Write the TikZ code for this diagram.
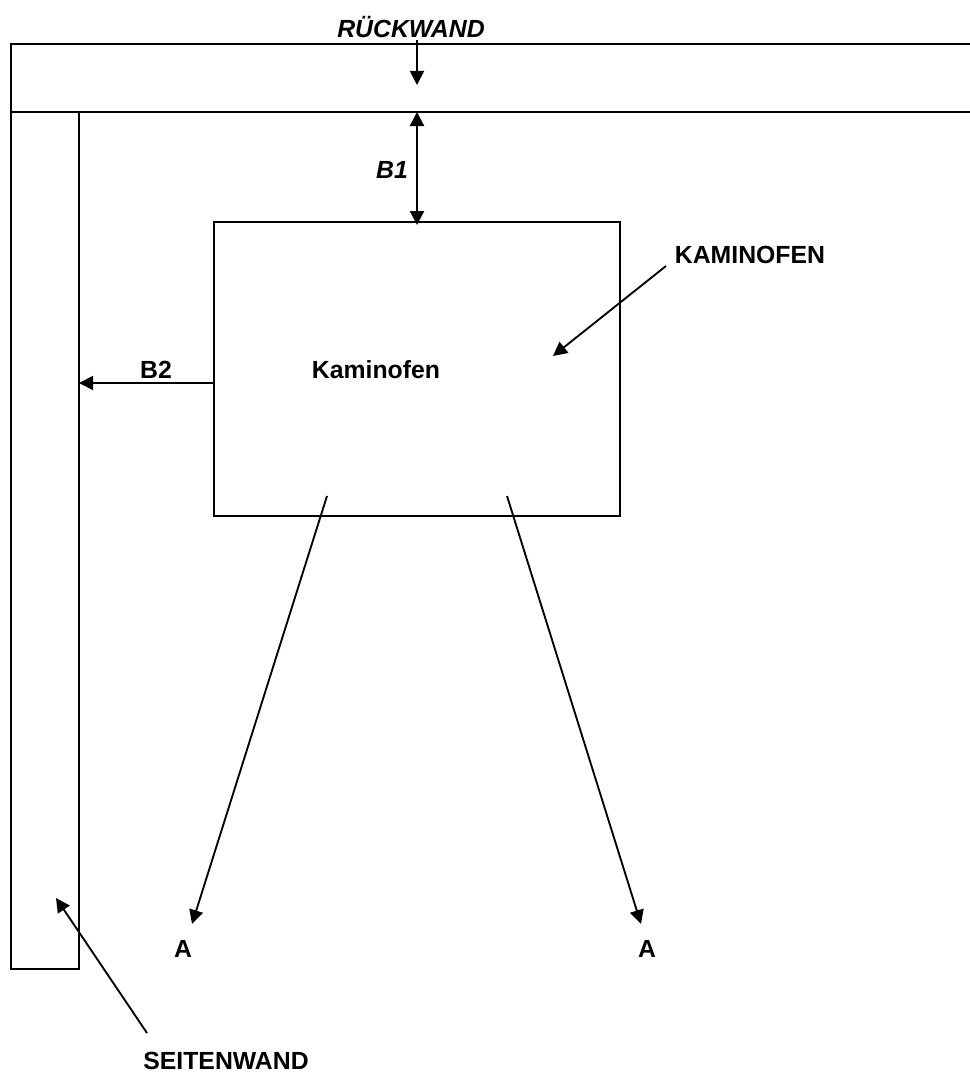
\documentclass[tikz,border=0pt]{standalone}
\usepackage{fontspec}
\setmainfont{Liberation Sans}
\usetikzlibrary{arrows.meta}
\tikzset{
  wall/.style={draw=black,line width=1.4pt},
  conn/.style={draw=black,line width=1.4pt,-{Triangle[length=10.5pt,width=10.5pt]}},
  dbl/.style={draw=black,line width=1.7pt,{Triangle[length=10.5pt,width=10.5pt]}-{Triangle[length=10.5pt,width=10.5pt]}},
  lab/.style={font=\bfseries\fontsize{18.6}{22}\selectfont,inner sep=0pt},
  ilab/.style={font=\bfseries\itshape\fontsize{18.6}{22}\selectfont,inner sep=0pt}
}
\begin{document}
\begin{tikzpicture}[x=0.75pt,y=-0.75pt]
\useasboundingbox (0,0) rectangle (970,1074);
% walls
\coordinate (wtl) at (11,44); \coordinate (wtr) at (970,44);
\coordinate (wbl) at (11,112); \coordinate (wbr) at (970,112);
\draw[wall] (wtr) -- (wtl) -- (11,969) -- (79,969) -- (79,112);
\draw[wall] (wbl) -- (wbr);
\coordinate (oTL) at (214,222); \coordinate (oBR) at (620,516);
\draw[wall] (oTL) rectangle (oBR);
\node[lab] (kam) at (376,370) {Kaminofen};
\node[lab] (kamo) at (750,255) {KAMINOFEN};
\node[ilab] (rw) at (411,27) {RÜCKWAND};
\node[ilab] (b1) at (392,170) {B1};
\node[lab] (b2) at (156,370) {B2};
\node[lab] (a1) at (183,949) {A};
\node[lab] (a2) at (647,949) {A};
\node[lab] (sw) at (226,1061) {SEITENWAND};
\coordinate (r0) at (417,40); \coordinate (r1) at (417,85);
\coordinate (d0) at (417,112); \coordinate (d1) at (417,225);
\coordinate (h0) at (214,383); \coordinate (h1) at (79,383);
\coordinate (k0) at (666,266); \coordinate (k1) at (553,356);
\coordinate (l0) at (327,496); \coordinate (l1) at (192,924);
\coordinate (m0) at (507,496); \coordinate (m1) at (641,924);
\coordinate (s0) at (147,1033); \coordinate (s1) at (56,898);
\draw[conn] (r0) -- (r1);
\draw[dbl] (d0) -- (d1);
\draw[conn] (h0) -- (h1);
\draw[conn] (k0) -- (k1);
\draw[conn] (l0) -- (l1);
\draw[conn] (m0) -- (m1);
\draw[conn] (s0) -- (s1);
\end{tikzpicture}
\end{document}
